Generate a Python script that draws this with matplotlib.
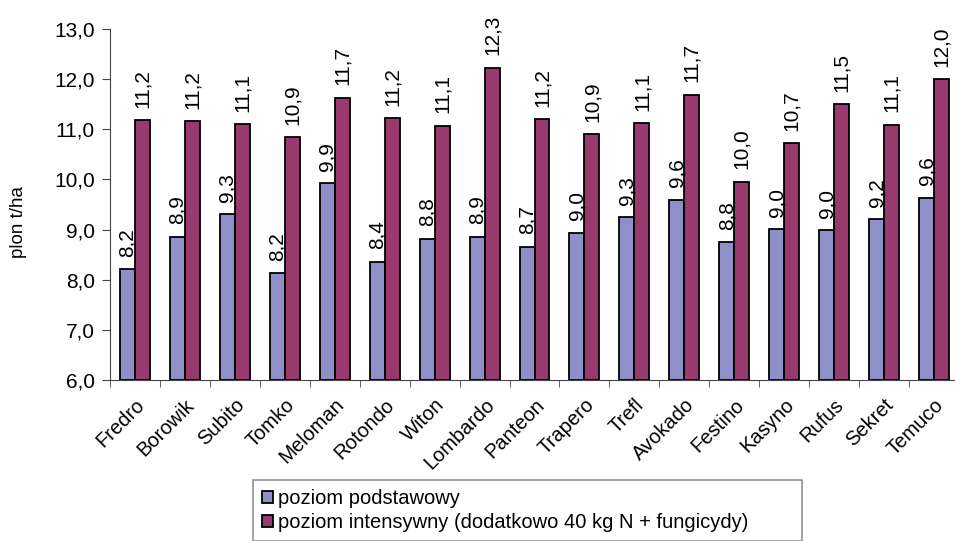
import matplotlib.pyplot as plt
import numpy as np

plt.rcParams['font.family'] = ['Liberation Sans', 'DejaVu Sans']

odmiany = ['Fredro', 'Borowik', 'Subito', 'Tomko', 'Meloman', 'Rotondo', 'Witon',
           'Lombardo', 'Panteon', 'Trapero', 'Trefl', 'Avokado', 'Festino',
           'Kasyno', 'Rufus', 'Sekret', 'Temuco']
podstawowy = [8.21, 8.86, 9.31, 8.13, 9.92, 8.36, 8.82, 8.86, 8.66, 8.94,
              9.25, 9.59, 8.75, 9.01, 8.99, 9.21, 9.63]
intensywny = [11.18, 11.16, 11.10, 10.84, 11.63, 11.22, 11.07, 12.23, 11.20,
              10.90, 11.12, 11.69, 9.95, 10.72, 11.50, 11.09, 12.00]
etykiety_podst = ['8,2', '8,9', '9,3', '8,2', '9,9', '8,4', '8,8', '8,9', '8,7',
                  '9,0', '9,3', '9,6', '8,8', '9,0', '9,0', '9,2', '9,6']
etykiety_int = ['11,2', '11,2', '11,1', '10,9', '11,7', '11,2', '11,1', '12,3',
                '11,2', '10,9', '11,1', '11,7', '10,0', '10,7', '11,5', '11,1', '12,0']
y_ticks = [6, 7, 8, 9, 10, 11, 12, 13]

fig = plt.figure(figsize=(9.55, 5.41), dpi=100)
ax = fig.add_axes([0.1152, 0.2976, 0.889, 0.6488])

x = np.arange(len(odmiany))
w = 0.3
ax.bar(x - w / 2, [v - 6 for v in podstawowy], w, bottom=6, color='#9090c8',
       edgecolor='black', linewidth=1.3, label='poziom podstawowy')
ax.bar(x + w / 2, [v - 6 for v in intensywny], w, bottom=6, color='#993a6e',
       edgecolor='black', linewidth=1.3,
       label='poziom intensywny (dodatkowo 40 kg N + fungicydy)')

for xi, v, t in zip(x - w / 2, podstawowy, etykiety_podst):
    ax.annotate(t, (xi, v), xytext=(0, 9), textcoords='offset points',
                rotation=90, ha='center', va='bottom', fontsize=15)
for xi, v, t in zip(x + w / 2, intensywny, etykiety_int):
    ax.annotate(t, (xi, v), xytext=(0, 9), textcoords='offset points',
                rotation=90, ha='center', va='bottom', fontsize=15)

ax.set_ylim(6, 13)
ax.set_xlim(-0.5, len(odmiany) - 0.5)
ax.set_yticks(y_ticks)
ax.set_yticklabels([f'{t:.1f}'.replace('.', ',') for t in y_ticks], fontsize=15)
ax.set_xticks(x)
ax.set_xticklabels(odmiany, rotation=45, ha='right', rotation_mode='anchor', fontsize=14.5)
ax.tick_params(axis='x', which='major', length=0, pad=11)
ax.set_xticks(np.arange(-0.5, len(odmiany), 1), minor=True)
ax.tick_params(axis='x', which='minor', length=5, direction='out', color='#444444')
ax.tick_params(axis='y', length=6, direction='out', color='#444444', pad=5)

for s in ['top', 'right']:
    ax.spines[s].set_visible(False)
ax.spines['left'].set_color('#444444')
ax.spines['bottom'].set_color('#444444')

fig.text(0.019, 0.59, 'plon t/ha', rotation=90, ha='center', va='center', fontsize=13.5)

# ramka legendy rozciągnięta do szerokości z oryginału
leg = fig.legend(loc='upper left', bbox_to_anchor=(0.265, 0.0128, 0.575, 0.1),
                 mode='expand', fontsize=14.5,
                 frameon=True, fancybox=False, edgecolor='#777777',
                 handlelength=0.55, handleheight=0.55, handletextpad=0.25,
                 labelspacing=0.25, borderpad=0.45, borderaxespad=0)
leg.get_frame().set_linewidth(1.2)

plt.savefig('out.png', dpi=100)
